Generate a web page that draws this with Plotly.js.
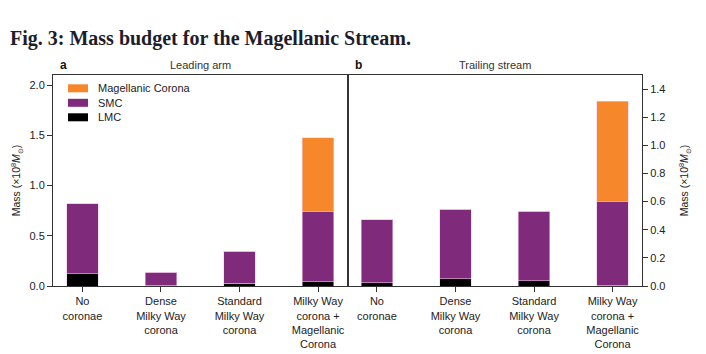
<!DOCTYPE html>
<html>
<head>
<meta charset="utf-8">
<script src="https://cdn.plot.ly/plotly-3.0.1.min.js"></script>
<style>html,body{margin:0;padding:0;background:#fff;}#chart{width:706px;height:354px;}</style>
</head>
<body>
<div id="chart"></div>
<script>
const categories = ["No<br>coronae", "Dense<br>Milky Way<br>corona", "Standard<br>Milky Way<br>corona", "Milky Way<br>corona +<br>Magellanic<br>Corona"];
const leadingLMC = [0.12, 0.01, 0.025, 0.04];
const leadingSMC = [0.70, 0.126, 0.323, 0.706];
const leadingMC  = [0, 0, 0, 0.73];
const trailingLMC = [0.024, 0.052, 0.036, 0.007];
const trailingSMC = [0.446, 0.494, 0.496, 0.596];
const trailingMC  = [0, 0, 0, 0.712];
const leftTicks = [0, 0.5, 1.0, 1.5, 2.0];
const rightTicks = [0, 0.2, 0.4, 0.6, 0.8, 1.0, 1.2, 1.4];
const legendNames = ['Magellanic Corona', 'SMC', 'LMC'];

const cLMC = '#000000', cSMC = '#7f2a7b', cMC = '#f6872a';
const legendColors = [cMC, cSMC, cLMC];
const edge = {color: 'rgba(240,200,235,0.9)', width: 0.6};
const bw = 0.4;
function bar(y, name, color, xa, ya) {
  return {type: 'bar', x: categories, y: y, name: name, xaxis: xa, yaxis: ya,
    marker: {color: color, line: edge}, width: bw, showlegend: false, hoverinfo: 'y'};
}
const data = [
  bar(leadingLMC, 'LMC', cLMC, 'x', 'y'),
  bar(leadingSMC, 'SMC', cSMC, 'x', 'y'),
  bar(leadingMC, 'Magellanic Corona', cMC, 'x', 'y'),
  bar(trailingLMC, 'LMC', cLMC, 'x2', 'y2'),
  bar(trailingSMC, 'SMC', cSMC, 'x2', 'y2'),
  bar(trailingMC, 'Magellanic Corona', cMC, 'x2', 'y2')
];
const fontFam = 'Liberation Sans, Arial, Helvetica, sans-serif';
const axLine = '#333333';
const xcommon = {type: 'category', range: [-0.375, 3.375], showline: true, mirror: true, linecolor: axLine, linewidth: 1,
  ticks: 'outside', ticklen: 5, tickcolor: axLine, showgrid: false, zeroline: false, fixedrange: true,
  tickfont: {family: fontFam, size: 11, color: '#222'}};
const ytitle = 'Mass (×10<sup>8</sup><i>M</i><sub>⊙</sub>)';

// custom legend (swatches 20x8 px, 14.7 px row pitch), placed in pixel offsets from the plot top-left
const plotL = 53, plotT = 75, plotW = 706 - 53 - 64, plotH = 354 - 75 - 68;
const px = v => (v - plotL) / plotW;
const py = v => 1 - (v - plotT) / plotH;
const shapes = [];
const legendAnn = [];
legendNames.forEach((n, i) => {
  const cy = 88.3 + i * 14.5;
  shapes.push({type: 'rect', xref: 'paper', yref: 'paper', x0: px(68), x1: px(88), y0: py(cy - 4), y1: py(cy + 4),
    fillcolor: legendColors[i], line: {width: 0}});
  legendAnn.push({text: n, xref: 'paper', yref: 'paper', x: px(96), y: py(cy), xanchor: 'left', yanchor: 'middle',
    showarrow: false, font: {family: fontFam, size: 11, color: '#222'}});
});

const layout = {
  width: 706, height: 354,
  margin: {l: 53, r: 64, t: 75, b: 68},
  paper_bgcolor: '#fff', plot_bgcolor: '#fff',
  barmode: 'stack',
  showlegend: false,
  font: {family: fontFam, size: 11, color: '#222'},
  xaxis: Object.assign({}, xcommon, {domain: [0, 0.5], anchor: 'y'}),
  xaxis2: Object.assign({}, xcommon, {domain: [0.5, 1], anchor: 'y2'}),
  yaxis: {range: [0, 2.1], tickvals: leftTicks, ticktext: leftTicks.map(v => v.toFixed(1)), showline: true, mirror: true,
    linecolor: axLine, linewidth: 1, ticks: 'outside', ticklen: 5, tickcolor: axLine, showgrid: false, zeroline: false,
    anchor: 'x', fixedrange: true, tickfont: {family: fontFam, size: 11, color: '#222'},
    title: {text: ytitle, font: {family: fontFam, size: 10.5, color: '#222'}, standoff: 6}},
  yaxis2: {range: [0, 1.5], tickvals: rightTicks, ticktext: rightTicks.map(v => v.toFixed(1)), side: 'right', showline: true, mirror: true,
    linecolor: axLine, linewidth: 1, ticks: 'outside', ticklen: 5, tickcolor: axLine, showgrid: false, zeroline: false,
    anchor: 'x2', fixedrange: true, tickfont: {family: fontFam, size: 11, color: '#222'},
    title: {text: ytitle, font: {family: fontFam, size: 10.5, color: '#222'}, standoff: 16}},
  shapes: shapes,
  annotations: [
    {text: '<b>Fig. 3: Mass budget for the Magellanic Stream.</b>', xref: 'paper', yref: 'paper', x: 0, y: 1, xshift: -45, yshift: 37,
      xanchor: 'left', yanchor: 'middle', showarrow: false, font: {family: 'Liberation Serif, DejaVu Serif, serif', size: 20, color: '#1d1d2b'}},
    {text: '<b>a</b>', xref: 'paper', yref: 'paper', x: 0, y: 1, xshift: 5, yshift: 10, xanchor: 'left', yanchor: 'middle', showarrow: false,
      font: {family: fontFam, size: 12, color: '#111'}},
    {text: 'Leading arm', xref: 'paper', yref: 'paper', x: 0.25, y: 1, yshift: 10, xanchor: 'center', yanchor: 'middle', showarrow: false,
      font: {family: fontFam, size: 11, color: '#333'}},
    {text: '<b>b</b>', xref: 'paper', yref: 'paper', x: 0.5, y: 1, xshift: 5, yshift: 10, xanchor: 'left', yanchor: 'middle', showarrow: false,
      font: {family: fontFam, size: 12, color: '#111'}},
    {text: 'Trailing stream', xref: 'paper', yref: 'paper', x: 0.75, y: 1, yshift: 10, xanchor: 'center', yanchor: 'middle', showarrow: false,
      font: {family: fontFam, size: 11, color: '#333'}}
  ].concat(legendAnn)
};
Plotly.newPlot('chart', data, layout, {displayModeBar: false, staticPlot: true});
</script>
</body>
</html>
